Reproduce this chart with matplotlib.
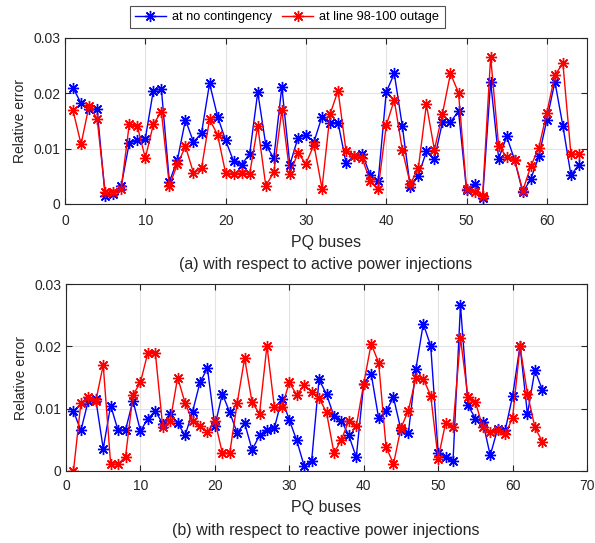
import matplotlib
matplotlib.use("Agg")
import matplotlib.pyplot as plt
import numpy as np

plt.rcParams['font.family'] = ['Liberation Sans', 'DejaVu Sans']

buses = list(range(1, 65))

# (a) active power injections, values in units of 1e-2
a_noc = [2.10, 1.82, 1.71, 1.71, 0.145, 0.18, 0.33, 1.10, 1.15, 1.18,
         2.05, 2.08, 0.40, 0.80, 1.52, 1.12, 1.28, 2.18, 1.58, 1.15,
         0.77, 0.71, 0.91, 2.02, 1.07, 0.83, 2.12, 0.71, 1.19, 1.25,
         1.12, 1.58, 1.47, 1.47, 0.74, 0.87, 0.91, 0.52, 0.42, 2.02,
         2.36, 1.41, 0.30, 0.51, 0.95, 0.81, 1.48, 1.48, 1.68, 0.25,
         0.36, 0.10, 2.21, 0.82, 1.22, 0.79, 0.21, 0.45, 0.86, 1.52,
         2.21, 1.41, 0.52, 0.71]
a_out = [1.69, 1.08, 1.78, 1.54, 0.21, 0.21, 0.28, 1.44, 1.41, 0.83,
         1.44, 1.67, 0.33, 0.72, 1.04, 0.56, 0.65, 1.53, 1.25, 0.56,
         0.55, 0.56, 0.55, 1.41, 0.33, 0.57, 1.70, 0.55, 0.92, 0.73,
         1.07, 0.28, 1.62, 2.05, 0.95, 0.87, 0.83, 0.41, 0.28, 1.42,
         1.88, 0.98, 0.36, 0.65, 1.80, 0.98, 1.63, 2.36, 2.01, 0.27,
         0.21, 0.15, 2.66, 1.05, 0.85, 0.79, 0.24, 0.68, 1.02, 1.65,
         2.33, 2.54, 0.90, 0.90]

# (b) reactive power injections, values in units of 1e-2
b_noc = [0.96, 0.65, 1.13, 1.15, 0.36, 1.05, 0.65, 0.66, 1.13, 0.64,
         0.84, 0.96, 0.76, 0.91, 0.77, 0.57, 0.95, 1.42, 1.65, 0.72,
         1.24, 0.94, 0.61, 0.77, 0.34, 0.57, 0.65, 0.69, 1.16, 0.82,
         0.49, 0.08, 0.16, 1.47, 1.23, 0.88, 0.81, 0.57, 0.22, 1.40,
         1.56, 0.85, 0.96, 1.18, 0.66, 0.61, 1.63, 2.36, 2.01, 0.29,
         0.22, 0.16, 2.66, 1.06, 0.84, 0.79, 0.25, 0.68, 0.65, 1.20,
         2.01, 0.91, 1.62, 1.30]
b_out = [0.00, 1.09, 1.19, 1.12, 1.70, 0.11, 0.11, 0.23, 1.22, 1.42,
         1.90, 1.90, 0.70, 0.80, 1.50, 1.09, 0.81, 0.72, 0.62, 0.81,
         0.29, 0.29, 1.09, 1.81, 1.10, 0.92, 2.01, 1.02, 1.02, 1.42,
         1.22, 1.38, 1.27, 1.17, 0.94, 0.29, 0.50, 0.81, 0.72, 1.40,
         2.04, 1.74, 0.39, 0.11, 0.69, 0.97, 1.49, 1.48, 1.21, 0.20,
         0.77, 0.70, 2.13, 1.19, 1.11, 0.70, 0.62, 0.65, 0.59, 0.85,
         2.00, 1.24, 0.70, 0.47]

labels = ['at no contingency', 'at line 98-100 outage']
subtitles = ['(a) with respect to active power injections',
             '(b) with respect to reactive power injections']

fig = plt.figure(figsize=(5.95, 5.43), dpi=100)
W, H = 595, 543

def mk_axes(l, r, t, b):
    return fig.add_axes([l / W, 1 - b / H, (r - l) / W, (b - t) / H])

ax1 = mk_axes(65, 587, 38, 204)
ax2 = mk_axes(66, 587, 284, 471)

mk = (8, 2, 0)
fs = 10
lfs = 11.5

def style(ax, xmax, xticks, xpad):
    ax.set_xlim(0, xmax)
    ax.set_ylim(0, 0.03)
    ax.set_xticks(xticks)
    ax.set_yticks([0, 0.01, 0.02, 0.03])
    ax.set_yticklabels(['0', '0.01', '0.02', '0.03'])
    ax.grid(True, color='#e3e3e3', linewidth=0.8)
    ax.set_axisbelow(True)
    ax.tick_params(direction='in', top=True, right=True, labelsize=fs,
                   length=4, width=0.8, colors='#262626')
    ax.tick_params(axis='x', pad=xpad)
    for s in ax.spines.values():
        s.set_color('#262626')
        s.set_linewidth(0.8)
    ax.set_xlabel('PQ buses', fontsize=lfs, labelpad=5, color='#262626')
    ax.set_ylabel('Relative error', fontsize=10, labelpad=4, color='#262626')

for ax, ya, yb, xmax, xt, xpad in [(ax1, a_noc, a_out, 65, range(0, 61, 10), 7),
                                   (ax2, b_noc, b_out, 70, range(0, 71, 10), 6)]:
    ax.plot(buses, np.array(ya) / 100, color='#0000ff', lw=1.0,
            marker=mk, markersize=8, markeredgewidth=1.0, label=labels[0])
    ax.plot(buses, np.array(yb) / 100, color='#ff0000', lw=1.0,
            marker=mk, markersize=8, markeredgewidth=1.0, label=labels[1])
    style(ax, xmax, list(xt), xpad)

fig.text(326 / W, 1 - 264 / H, subtitles[0], ha='center', va='center',
         fontsize=lfs, color='#262626')
fig.text(326 / W, 1 - 530 / H, subtitles[1], ha='center', va='center',
         fontsize=lfs, color='#262626')

h, l = ax1.get_legend_handles_labels()
leg = fig.legend(h, l, loc='upper left', bbox_to_anchor=(130 / W, 1 - 6 / H),
                 ncol=2, fontsize=9.2, frameon=True, fancybox=False,
                 edgecolor='#262626', handlelength=2.4, columnspacing=0.8,
                 borderpad=0.4, handletextpad=0.5, borderaxespad=0)
leg.get_frame().set_linewidth(0.8)

fig.savefig('out.png', dpi=100)
